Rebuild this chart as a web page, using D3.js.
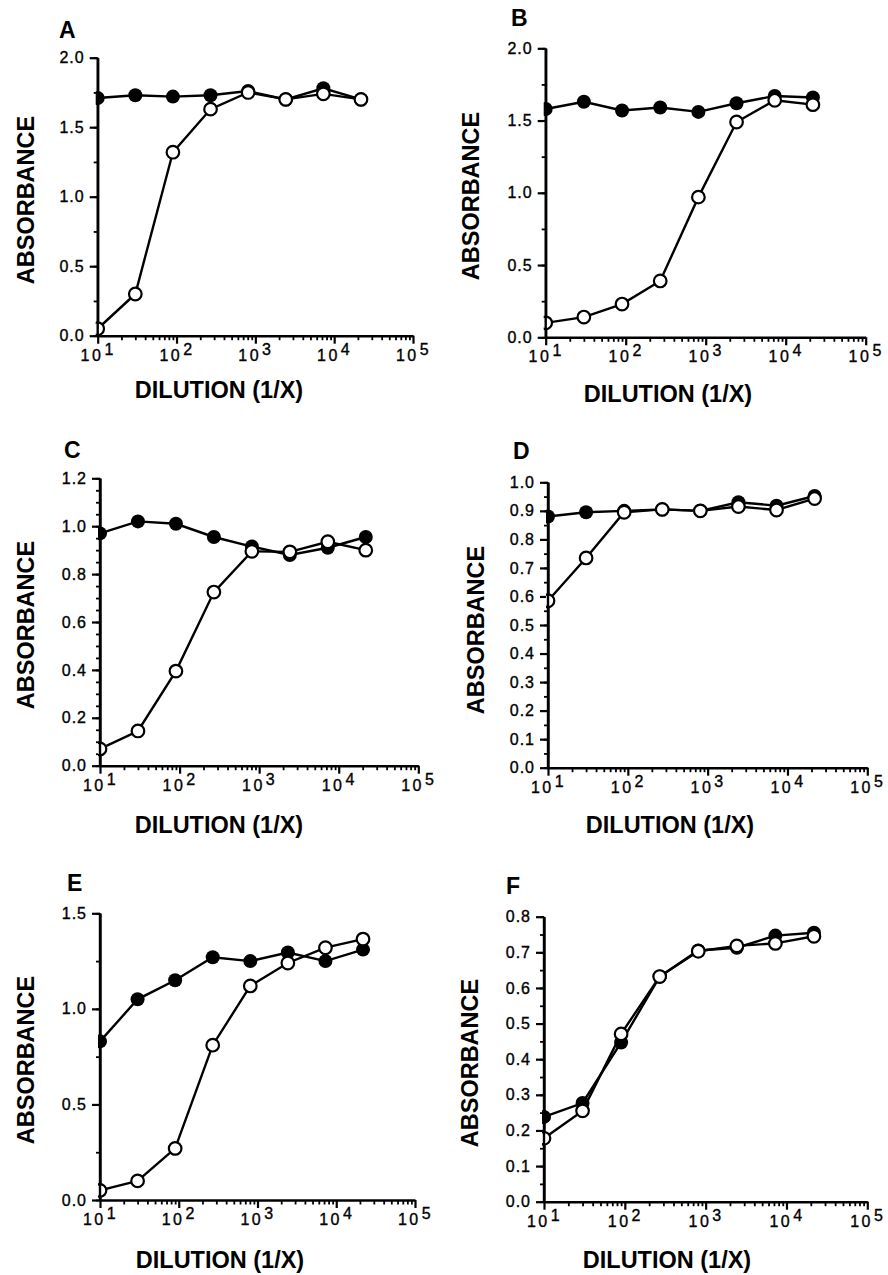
<!DOCTYPE html>
<html><head><meta charset="utf-8">
<script src="https://cdn.jsdelivr.net/npm/d3@7"></script>
<style>body{margin:0;background:#fff}svg{display:block}</style>
</head><body>
<svg id="chart" width="888" height="1275"></svg>
<script>
// ---- data ----
const dilutions = [10, 30, 90, 270, 810, 2430, 7290, 21870];
const panelNames = ["A", "B", "C", "D", "E", "F"];
const xDecades = [1, 2, 3, 4, 5];
const yMax = [2.0, 2.0, 1.2, 1.0, 1.5, 0.8];
const yMajorStep = [0.5, 0.5, 0.2, 0.1, 0.5, 0.1];
const yMinorStep = [0.25, 0.25, 0.05, 0.05, 0.25, 0.05];
const xTitle = "DILUTION (1/X)";
const yTitle = "ABSORBANCE";

const filledA = [1.71, 1.73, 1.72, 1.73, 1.76, 1.70, 1.78, 1.70];
const openA   = [0.05, 0.30, 1.32, 1.63, 1.75, 1.70, 1.74, 1.70];
const filledB = [1.58, 1.63, 1.57, 1.59, 1.56, 1.62, 1.67, 1.66];
const openB   = [0.10, 0.14, 0.23, 0.39, 0.97, 1.49, 1.64, 1.61];
const filledC = [0.97, 1.02, 1.01, 0.955, 0.915, 0.88, 0.91, 0.955];
const openC   = [0.07, 0.145, 0.395, 0.725, 0.895, 0.893, 0.935, 0.90];
const filledD = [0.88, 0.895, 0.90, 0.905, 0.90, 0.93, 0.918, 0.952];
const openD   = [0.585, 0.735, 0.895, 0.905, 0.90, 0.915, 0.903, 0.943];
const filledE = [0.83, 1.05, 1.15, 1.27, 1.25, 1.295, 1.25, 1.31];
const openE   = [0.05, 0.10, 0.27, 0.81, 1.12, 1.24, 1.32, 1.365];
const filledF = [0.238, 0.277, 0.447, 0.632, 0.705, 0.713, 0.747, 0.755];
const openF   = [0.178, 0.255, 0.471, 0.632, 0.703, 0.718, 0.725, 0.745];

const filledSeries = [filledA, filledB, filledC, filledD, filledE, filledF];
const openSeries = [openA, openB, openC, openD, openE, openF];

// ---- layout (pixel frames for each panel) ----
const layout = [
  {L: 97.7, R: 413,   T: 57.7,  B: 335.7, tx: 59,  ty: 38,  xl: 219, xb: 398,  yx: 34,  yc: 200},
  {L: 545.7, R: 865.7, T: 48.3, B: 337.3, tx: 511, ty: 26,  xl: 668, xb: 402,  yx: 479, yc: 196},
  {L: 100,  R: 418.3, T: 478.3, B: 765.7, tx: 64,  ty: 458, xl: 219, xb: 833,  yx: 34,  yc: 625},
  {L: 548,  R: 867.3, T: 482.3, B: 767.7, tx: 513, ty: 459, xl: 670, xb: 833,  yx: 484, yc: 630},
  {L: 100,  R: 415,   T: 913.3, B: 1200,  tx: 67,  ty: 891, xl: 220, xb: 1268, yx: 34,  yc: 1060},
  {L: 544,  R: 867.3, T: 916.7, B: 1201.7, tx: 506, ty: 894, xl: 667, xb: 1268, yx: 478, yc: 1063}
];

const FONT = "'Liberation Sans', Arial, Helvetica, sans-serif";
const svg = d3.select("#chart");

function range(step, max) {
  const n = Math.round(max / step);
  return d3.range(n + 1).map(i => +(i * step).toFixed(4));
}

panelNames.forEach((name, i) => {
  const lay = layout[i];
  const x = d3.scaleLog().domain([10, 1e5]).range([lay.L, lay.R]);
  const y = d3.scaleLinear().domain([0, yMax[i]]).range([lay.B, lay.T]);
  const g = svg.append("g");

  // panel letter
  g.append("text").attr("x", lay.tx).attr("y", lay.ty)
    .attr("font-family", FONT).attr("font-weight", "bold").attr("font-size", 23)
    .text(name);

  // y minor ticks
  const minors = range(yMinorStep[i], yMax[i]);
  const gyMin = g.append("g").attr("transform", `translate(${lay.L},0)`)
    .call(d3.axisLeft(y).tickValues(minors).tickSize(4).tickSizeOuter(0).tickFormat(""));
  gyMin.select(".domain").remove();
  gyMin.selectAll("line").attr("stroke-width", 1.8);

  // y major ticks
  const majors = range(yMajorStep[i], yMax[i]);
  const gy = g.append("g").attr("transform", `translate(${lay.L},0)`)
    .call(d3.axisLeft(y).tickValues(majors).tickSize(8).tickSizeOuter(0)
      .tickPadding(5).tickFormat(d3.format(".1f")));
  gy.select(".domain").attr("stroke-width", 2.4);
  gy.selectAll("line").attr("stroke-width", 2.2);
  gy.selectAll("text").attr("font-family", FONT).attr("font-size", 16)
    .attr("letter-spacing", 1).attr("fill", "#000")
    .attr("stroke", "#000").attr("stroke-width", 0.35);

  // x minor ticks
  const xMinor = [];
  for (let k = 1; k < 5; k++) for (let m = 2; m <= 9; m++) xMinor.push(m * Math.pow(10, k));
  const gxMin = g.append("g").attr("transform", `translate(0,${lay.B})`)
    .call(d3.axisBottom(x).tickValues(xMinor).tickSize(4.5).tickSizeOuter(0).tickFormat(""));
  gxMin.select(".domain").remove();
  gxMin.selectAll("line").attr("stroke-width", 1.8);

  // x major ticks
  const gx = g.append("g").attr("transform", `translate(0,${lay.B})`)
    .call(d3.axisBottom(x).tickValues(xDecades.map(e => Math.pow(10, e)))
      .tickSize(8).tickSizeOuter(0).tickFormat(""));
  gx.select(".domain").attr("stroke-width", 2.4);
  gx.selectAll("line").attr("stroke-width", 2.2);
  gx.selectAll(".tick").each(function(d, j) {
    const t = d3.select(this).select("text")
      .attr("y", 25).attr("dy", null)
      .attr("font-family", FONT).attr("font-size", 16).attr("letter-spacing", 2.5)
      .attr("fill", "#000").attr("stroke", "#000").attr("stroke-width", 0.35)
      .attr("text-anchor", "middle");
    t.text("10");
    t.append("tspan").attr("dy", -6).attr("dx", 1).text(xDecades[j]);
  });

  // axis titles
  g.append("text").attr("x", lay.xl).attr("y", lay.xb).attr("text-anchor", "middle")
    .attr("font-family", FONT).attr("font-weight", "bold").attr("font-size", 23.5)
    .text(xTitle);
  g.append("text").attr("transform", `translate(${lay.yx},${lay.yc}) rotate(-90)`)
    .attr("text-anchor", "middle")
    .attr("font-family", FONT).attr("font-weight", "bold").attr("font-size", 23.5)
    .text(yTitle);

  // clip so markers at the y axis are cut at the axis
  const clipId = "clip" + name;
  svg.append("clipPath").attr("id", clipId).append("rect")
    .attr("x", lay.L - 2).attr("y", lay.T - 30)
    .attr("width", lay.R - lay.L + 30).attr("height", lay.B - lay.T + 40);

  const line = d3.line().x((d, k) => x(dilutions[k])).y(d => y(d));
  const plot = g.append("g").attr("clip-path", `url(#${clipId})`);

  // filled series
  plot.append("path").datum(filledSeries[i]).attr("d", line)
    .attr("fill", "none").attr("stroke", "#000").attr("stroke-width", 2.4);
  plot.selectAll(".f").data(filledSeries[i]).enter().append("circle")
    .attr("cx", (d, k) => x(dilutions[k])).attr("cy", d => y(d)).attr("r", 7)
    .attr("fill", "#000");

  // open series
  plot.append("path").datum(openSeries[i]).attr("d", line)
    .attr("fill", "none").attr("stroke", "#000").attr("stroke-width", 2.4);
  plot.selectAll(".o").data(openSeries[i]).enter().append("circle")
    .attr("cx", (d, k) => x(dilutions[k])).attr("cy", d => y(d)).attr("r", 6.3)
    .attr("fill", "#fff").attr("stroke", "#000").attr("stroke-width", 2.2);

  // redraw y axis line over markers
  g.append("line").attr("x1", lay.L).attr("x2", lay.L).attr("y1", lay.T).attr("y2", lay.B)
    .attr("stroke", "#000").attr("stroke-width", 2.4);
});
</script>
</body></html>
